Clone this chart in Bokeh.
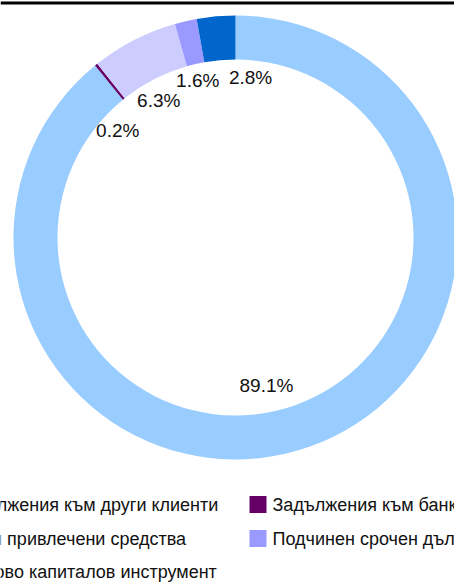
import math
from bokeh.plotting import figure
from bokeh.models import Range1d, Span, ColumnDataSource
from bokeh.core.properties import value
from bokeh.embed import file_html
from bokeh.resources import INLINE

# ---- data ----
categories = ["Задължения към други клиенти", "Задължения към банки",
              "Други привлечени средства", "Подчинен срочен дълг",
              "Дългово капиталов инструмент"]
shares = [89.1, 0.2, 6.3, 1.6, 2.8]
labels = ["89.1%", "0.2%", "6.3%", "1.6%", "2.8%"]
colors = ["#99CCFF", "#660066", "#CCCCFF", "#9999FF", "#0066CC"]

# ---- layout ----
W, H = 454, 583
cx, cy = 235, 346
r_out, r_in = 222, 178
label_r = [151, 159, 157, 161, 161]
label_nudge_deg = [7.8, -8.9, -2.1, -0.6, 10.4]
FONT = value("Liberation Sans")

p = figure(width=W, height=H, x_range=Range1d(0, W), y_range=Range1d(0, H),
           output_backend="svg", toolbar_location=None, min_border=0)
p.axis.visible = False
p.grid.visible = False
p.outline_line_color = None
p.background_fill_color = "white"

total = sum(shares)
starts, ends, lx, ly = [], [], [], []
cum = 0.0
for i, s in enumerate(shares):
    a0 = cum / total
    a1 = (cum + s) / total
    cum += s
    starts.append(math.pi / 2 - 2 * math.pi * a1)
    ends.append(math.pi / 2 - 2 * math.pi * a0)
    mid_cw = 360 * (a0 + a1) / 2 + label_nudge_deg[i]
    t = math.radians(mid_cw)
    lx.append(cx + label_r[i] * math.sin(t))
    ly.append(cy + label_r[i] * math.cos(t))

src = ColumnDataSource(dict(start=starts, end=ends, color=colors,
                            lx=lx, ly=ly, label=labels))
p.annular_wedge(x=cx, y=cy, inner_radius=r_in, outer_radius=r_out,
                start_angle="start", end_angle="end", direction="anticlock",
                fill_color="color", line_color=None, source=src)
p.text(x="lx", y="ly", text="label", source=src, text_font=FONT,
       text_font_size="19px", text_align="center", text_baseline="middle",
       text_color="#111111")

# top rule
p.add_layout(Span(location=H - 2.5, dimension="width", line_color="black",
                  line_width=3))

# legend
col_text_x = [-46, 272]
row_y = [79, 45, 12]
sq = 17
leg_x, leg_y, leg_sx = [], [], []
for i in range(len(categories)):
    col, row = i % 2, i // 2
    leg_x.append(col_text_x[col])
    leg_y.append(row_y[row])
    leg_sx.append(col_text_x[col] - 14.5)
lsrc = ColumnDataSource(dict(x=leg_x, y=leg_y, sx=leg_sx, name=categories,
                             color=colors))
p.rect(x="sx", y="y", width=sq, height=sq, fill_color="color", line_color=None,
       source=lsrc)
p.text(x="x", y="y", text="name", source=lsrc, text_font=FONT,
       text_font_size="18px", text_align="left", text_baseline="middle",
       text_color="#111111")

open("out.html", "w").write(file_html(p, INLINE))
